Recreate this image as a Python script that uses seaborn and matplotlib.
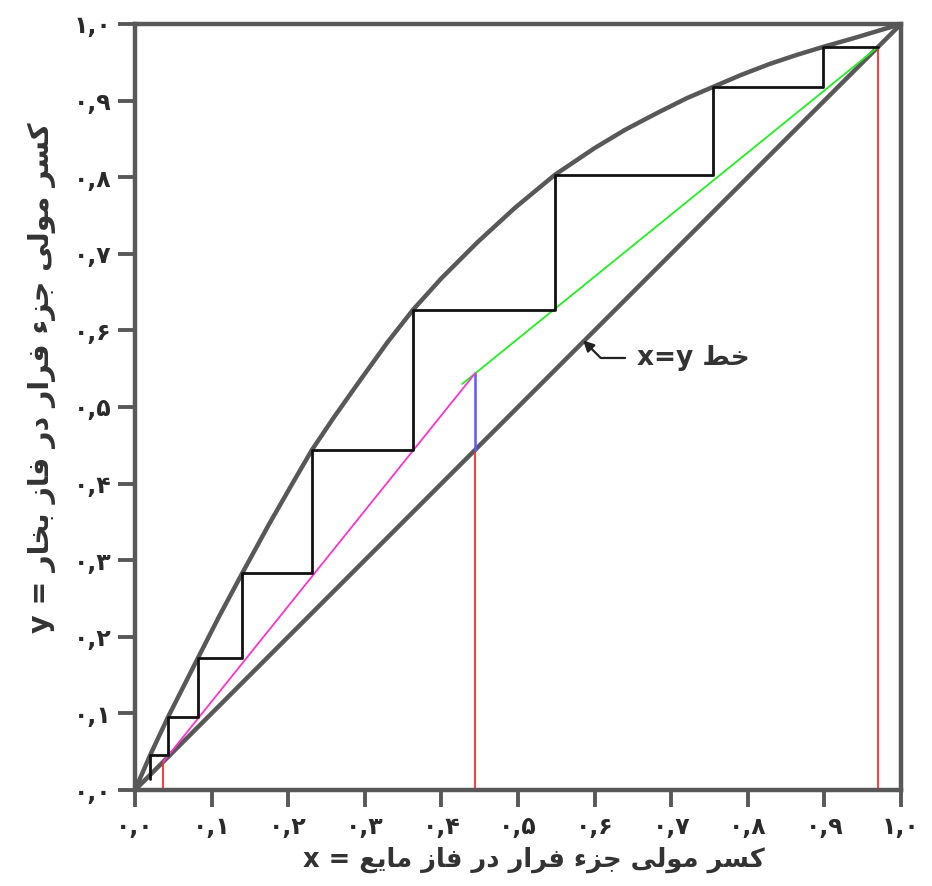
import matplotlib
matplotlib.use("Agg")
import matplotlib.pyplot as plt
import seaborn as sns

# ---------------- data ----------------
eq_x = [0.0, 0.020, 0.043, 0.082, 0.110, 0.140, 0.175, 0.206, 0.231, 0.260,
        0.294, 0.330, 0.363, 0.400, 0.447, 0.496, 0.548, 0.600, 0.640, 0.682,
        0.720, 0.755, 0.790, 0.829, 0.865, 0.898, 0.940, 0.970, 1.0]
eq_y = [0.0, 0.046, 0.095, 0.172, 0.227, 0.283, 0.347, 0.401, 0.444, 0.487,
        0.535, 0.585, 0.627, 0.668, 0.715, 0.760, 0.803, 0.838, 0.862, 0.884,
        0.903, 0.918, 0.933, 0.948, 0.960, 0.970, 0.982, 0.991, 1.0]

diag = [0.0, 1.0]

x_D = 0.970
z_F = 0.444
x_W = 0.037
q_y = 0.544

rect_x = [0.427, 0.970]
rect_y = [0.530, 0.970]
strip_x = [0.037, 0.444]
strip_y = [0.037, 0.544]

step_x = [0.898, 0.755, 0.548, 0.363, 0.231, 0.140, 0.082, 0.043, 0.020]
step_y = [0.970, 0.918, 0.803, 0.627, 0.444, 0.283, 0.172, 0.095, 0.046]
step_end_y = 0.014

ticks = [0.0, 0.1, 0.2, 0.3, 0.4, 0.5, 0.6, 0.7, 0.8, 0.9, 1.0]
tick_labels = ["۰,۰", "۰,۱", "۰,۲", "۰,۳", "۰,۴", "۰,۵", "۰,۶", "۰,۷", "۰,۸", "۰,۹", "۱,۰"]

x_label = "کسر مولی جزء فرار در فاز مایع = x"
y_label = "کسر مولی جزء فرار در فاز بخار = y"
diag_label = "خط x=y"

# ---------------- minimal Persian shaping (matplotlib has no RTL shaping) ----------------
_F = {  # isolated, final, initial, medial
    'ا': ('\uFE8D', '\uFE8E', None, None),
    'ب': ('\uFE8F', '\uFE90', '\uFE91', '\uFE92'),
    'ج': ('\uFE9D', '\uFE9E', '\uFE9F', '\uFEA0'),
    'خ': ('\uFEA5', '\uFEA6', '\uFEA7', '\uFEA8'),
    'د': ('\uFEA9', '\uFEAA', None, None),
    'ر': ('\uFEAD', '\uFEAE', None, None),
    'ز': ('\uFEAF', '\uFEB0', None, None),
    'س': ('\uFEB1', '\uFEB2', '\uFEB3', '\uFEB4'),
    'ط': ('\uFEC1', '\uFEC2', '\uFEC3', '\uFEC4'),
    'ع': ('\uFEC9', '\uFECA', '\uFECB', '\uFECC'),
    'ف': ('\uFED1', '\uFED2', '\uFED3', '\uFED4'),
    'ک': ('\uFED9', '\uFEDA', '\uFEDB', '\uFEDC'),
    'ل': ('\uFEDD', '\uFEDE', '\uFEDF', '\uFEE0'),
    'م': ('\uFEE1', '\uFEE2', '\uFEE3', '\uFEE4'),
    'و': ('\uFEED', '\uFEEE', None, None),
    'ی': ('\uFEEF', '\uFEF0', '\uFEF3', '\uFEF4'),
    'ء': ('\uFE80', None, None, None),
}


def shape_word(w):
    out = []
    for i, c in enumerate(w):
        if c not in _F:
            out.append(c)
            continue
        prev = w[i - 1] if i > 0 else None
        nxt = w[i + 1] if i + 1 < len(w) else None
        f = _F[c]
        jp = prev in _F and _F[prev][2] is not None and f[1] is not None
        jn = f[2] is not None and nxt in _F and _F[nxt][1] is not None
        if jp and jn:
            g = f[3]
        elif jp:
            g = f[1]
        elif jn:
            g = f[2]
        else:
            g = f[0]
        out.append(g)
    return ''.join(out)


def rtl(s):
    vis = []
    for w in reversed(s.split(' ')):
        if any(ch in _F for ch in w):
            vis.append(shape_word(w)[::-1])
        else:
            vis.append(w)
    return ' '.join(vis)


# ---------------- figure ----------------
sns.set_theme(style="white")
plt.rcParams['font.family'] = ['DejaVu Sans']

W, H = 932, 886
fig = plt.figure(figsize=(W / 100, H / 100), dpi=100)
ax = fig.add_axes([135 / W, 1 - 790 / H, 766 / W, 766 / H])

gray = "#585858"

# equilibrium curve and diagonal
sns.lineplot(x=eq_x, y=eq_y, sort=False, estimator=None, ax=ax, color=gray, linewidth=3.2)
sns.lineplot(x=diag, y=diag, sort=False, estimator=None, ax=ax, color=gray, linewidth=3.2)

# vertical composition lines
sns.lineplot(x=[x_W, x_W], y=[0, x_W], sort=False, estimator=None, ax=ax, color="#ff2a2a", linewidth=1.3)
sns.lineplot(x=[z_F, z_F], y=[0, z_F], sort=False, estimator=None, ax=ax, color="#ff2a2a", linewidth=1.3)
sns.lineplot(x=[x_D, x_D], y=[0, x_D], sort=False, estimator=None, ax=ax, color="#ff2a2a", linewidth=1.3)
sns.lineplot(x=[z_F, z_F], y=[z_F, q_y], sort=False, estimator=None, ax=ax, color="#5a5aff", linewidth=1.8)

# operating lines
sns.lineplot(x=rect_x, y=rect_y, sort=False, estimator=None, ax=ax, color="#22ee22", linewidth=1.3)
sns.lineplot(x=strip_x, y=strip_y, sort=False, estimator=None, ax=ax, color="#ff33cc", linewidth=1.3)

# stages staircase
sx, sy = [x_D], [step_y[0]]
for i in range(len(step_x)):
    sx.append(step_x[i]); sy.append(step_y[i])
    nxt = step_y[i + 1] if i + 1 < len(step_y) else step_end_y
    sx.append(step_x[i]); sy.append(nxt)
sns.lineplot(x=sx, y=sy, sort=False, estimator=None, ax=ax, color="#111111", linewidth=2.0)

# axes styling
ax.set_xlim(0, 1)
ax.set_ylim(0, 1)
ax.set_xticks(ticks)
ax.set_yticks(ticks)
ax.set_xticklabels(tick_labels, fontweight='bold')
ax.set_yticklabels(tick_labels, fontweight='bold')
ax.tick_params(axis='both', which='major', bottom=True, left=True, direction='out',
               length=12, width=2.8, color=gray, labelsize=17, labelcolor="#2a2a2a")
ax.tick_params(axis='x', pad=6)
ax.tick_params(axis='y', pad=5)
for sp in ax.spines.values():
    sp.set_color(gray)
    sp.set_linewidth(3.2)
ax.set_xlabel("")
ax.set_ylabel("")

# labels
fig.text(534 / W, 1 - 860 / H, rtl(x_label), ha='center', va='center',
         fontsize=18.5, fontweight='bold', color="#333333")
fig.text(42 / W, 1 - 378 / H, rtl(y_label), ha='center', va='center', rotation=90,
         fontsize=20.5, fontweight='bold', color="#333333")

ax.annotate(rtl(diag_label), xy=(0.585, 0.587), xytext=(0.655, 0.564),
            ha='left', va='center', fontsize=19, fontweight='bold', color="#333333",
            arrowprops=dict(arrowstyle='-|>', color="#222222", lw=1.6, mutation_scale=16,
                            shrinkA=6, shrinkB=0,
                            connectionstyle='angle,angleA=0,angleB=135,rad=0'))

fig.savefig("out.png", dpi=100)
